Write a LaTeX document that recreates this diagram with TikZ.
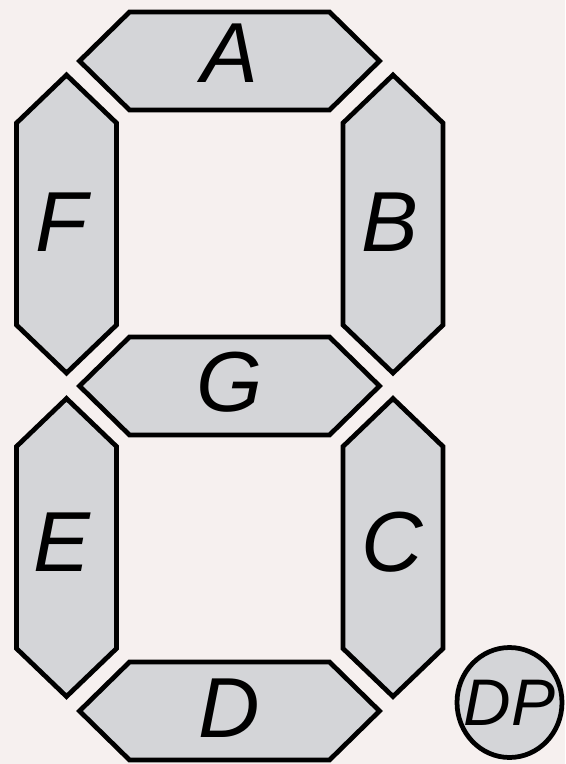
\documentclass[tikz,border=0pt]{standalone}
\usepackage{fontspec}
\setmainfont{Liberation Sans}
\usepackage{tikz}
\usetikzlibrary{positioning, shapes.geometric}
\definecolor{backpink}{RGB}{246, 240, 239}
\definecolor{seggray}{RGB}{212, 213, 216}

\tikzset{
  segment/.style={draw=black, fill=seggray, line width=0.095cm, line join=miter},
  seglabel/.style={inner sep=0pt, font=\fontsize{48.5}{50}\selectfont\itshape},
  dplabel/.style={inner sep=0pt, font=\fontsize{37.5}{40}\selectfont\itshape}
}
% horizontal and vertical bars, given their centre
\newcommand{\hsegbar}[2]{\draw[segment] ({#1-150},#2) -- ++(50,-49) -- ++(200,0) -- ++(50,49) -- ++(-50,49) -- ++(-200,0) -- cycle;}
\newcommand{\vsegbar}[2]{\draw[segment] (#1,{#2-149}) -- ++(50,48) -- ++(0,202) -- ++(-50,48) -- ++(-50,-48) -- ++(0,-202) -- cycle;}

\begin{document}
\begin{tikzpicture}[x=0.02cm, y=-0.02cm]
  \fill[backpink] (0,0) rectangle (565,764);
  \useasboundingbox (0,0) rectangle (565,764);

  % bars
  \hsegbar{229.5}{61}
  \hsegbar{229.5}{386}
  \hsegbar{229.5}{711}
  \vsegbar{66.5}{224}
  \vsegbar{393}{224}
  \vsegbar{66.5}{547.5}
  \vsegbar{393}{547.5}

  % labels
  \node[seglabel] (segA) at (230,53) {A};
  \node[seglabel] (segB) at (390,222) {B};
  \node[seglabel] (segC) at (392,542) {C};
  \node[seglabel] (segD) at (229,708) {D};
  \node[seglabel] (segE) at (62,542) {E};
  \node[seglabel] (segF) at (62,222) {F};
  \node[seglabel] (segG) at (230,382) {G};

  % decimal point
  \node[segment, ellipse, inner sep=0pt, minimum width=2.1cm, minimum height=2.2cm] (dot) at (509.5,702.5) {};
  \node[dplabel] (dpText) at (dot.center) {DP};
\end{tikzpicture}
\end{document}
